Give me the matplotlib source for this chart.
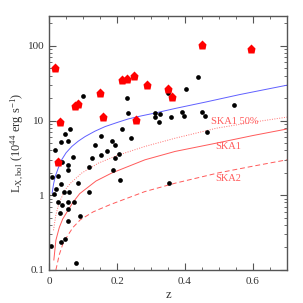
import matplotlib
matplotlib.use('Agg')
import matplotlib.pyplot as plt
import matplotlib.ticker as ticker

plt.rcParams['font.family'] = ['Liberation Serif', 'DejaVu Serif']
plt.rcParams['mathtext.fontset'] = 'custom'
plt.rcParams['mathtext.rm'] = 'Liberation Serif'
plt.rcParams['mathtext.it'] = 'Liberation Serif:italic'

# clusters (black dots): redshift, L_X,bol [1e44 erg/s]
z_black = [0.007, 0.034, 0.046, 0.079, 0.057, 0.091, 0.032, 0.055, 0.038, 0.027,
           0.055, 0.072, 0.014, 0.021, 0.044, 0.059, 0.118, 0.035, 0.084, 0.010,
           0.027, 0.055, 0.116, 0.188, 0.210, 0.039, 0.056, 0.071, 0.016, 0.034,
           0.055, 0.047, 0.061, 0.101, 0.125, 0.136, 0.153, 0.152, 0.170, 0.186,
           0.194, 0.193, 0.207, 0.215, 0.229, 0.233, 0.241, 0.313, 0.311, 0.323,
           0.326, 0.351, 0.359, 0.404, 0.390, 0.398, 0.439, 0.449, 0.460, 0.464,
           0.544, 0.352]
L_black = [0.21, 0.24, 0.26, 0.123, 0.45, 0.52, 0.57, 0.66, 0.73, 0.81,
           0.82, 0.80, 1.04, 1.22, 1.12, 1.12, 1.11, 1.42, 1.48, 1.73,
           1.81, 2.15, 2.38, 2.19, 1.59, 2.8, 2.55, 3.27, 4.05, 5.1,
           5.25, 6.7, 7.8, 21.5, 3.14, 4.7, 3.45, 6.2, 3.94, 5.3,
           4.74, 3.14, 3.56, 7.6, 20.0, 12.7, 5.9, 12.8, 11.3, 9.55,
           12.4, 23.4, 11.0, 26.4, 13.1, 11.6, 37.8, 13.0, 11.6, 7.0,
           16.0, 1.48]

# radio halo clusters (red pentagons)
z_red = [0.018, 0.026, 0.033, 0.076, 0.086, 0.151, 0.159, 0.214, 0.228, 0.251,
         0.257, 0.288, 0.349, 0.361, 0.450, 0.595]
L_red = [51, 2.78, 9.7, 15.5, 16.6, 23, 11.3, 34.9, 35.5, 39.8,
         10.3, 29.9, 26.1, 20.8, 101.6, 89.8]

# limit curves
z_blue = [0.009, 0.013, 0.018, 0.027, 0.037, 0.05, 0.067, 0.086, 0.106, 0.135,
          0.165, 0.2, 0.233, 0.27, 0.312, 0.371, 0.464, 0.56, 0.7]
L_blue = [1.07, 1.4, 1.78, 2.31, 2.98, 3.7, 4.5, 5.3, 6.1, 7.2,
          8.3, 9.4, 10.5, 11.5, 12.6, 14.5, 17.8, 22.2, 29.7]

z_ska1_50 = [0.013, 0.02, 0.03, 0.047, 0.063, 0.096, 0.145, 0.2, 0.282, 0.371,
             0.493, 0.6, 0.7]
L_ska1_50 = [0.34, 0.55, 0.8, 1.18, 1.45, 1.98, 2.69, 3.4, 4.5, 5.8,
             7.9, 9.5, 11.1]

z_ska1 = [0.014, 0.02, 0.03, 0.04, 0.053, 0.07, 0.09, 0.138, 0.184, 0.282,
          0.371, 0.493, 0.6, 0.7]
L_ska1 = [0.136, 0.25, 0.37, 0.48, 0.6, 0.8, 1.05, 1.55, 1.98, 2.98,
          3.86, 4.99, 6.3, 7.7]

z_ska2 = [0.02, 0.03, 0.04, 0.053, 0.07, 0.092, 0.13, 0.18, 0.282, 0.371,
          0.5, 0.6, 0.7]
L_ska2 = [0.1, 0.16, 0.22, 0.28, 0.37, 0.47, 0.6, 0.75, 1.12, 1.45,
          2.0, 2.45, 2.98]

fig = plt.figure(figsize=(3.03, 3.03), dpi=100)
ax = fig.add_axes([0.162, 0.109, 0.785, 0.838])

red = '#ff5a5a'
ax.plot(z_blue, L_blue, color='#6060ff', lw=0.7)
ax.plot(z_ska1_50, L_ska1_50, color='#ff7070', lw=0.7, ls=(0, (1, 1.5)))
ax.plot(z_ska1, L_ska1, color=red, lw=0.7)
ax.plot(z_ska2, L_ska2, color=red, lw=0.7, ls=(0, (5, 3)))

ax.plot(z_black, L_black, 'o', color='black', ms=3.4, mec='none')
ax.plot(z_red, L_red, 'p', color='red', ms=6.5, mec='none')

ax.text(0.476, 9.6, 'SKA1 50%', color=red, fontsize=7.5, va='center')
ax.text(0.49, 4.46, 'SKA1', color=red, fontsize=7.5, va='center')
ax.text(0.49, 1.69, 'SKA2', color=red, fontsize=7.5, va='center')

ax.set_yscale('log')
ax.set_xlim(0, 0.7)
ax.set_ylim(0.1, 250)
ax.xaxis.set_major_locator(ticker.MultipleLocator(0.2))
ax.xaxis.set_minor_locator(ticker.MultipleLocator(0.05))
ax.xaxis.set_major_formatter(ticker.FuncFormatter(lambda v, p: '0' if v == 0 else f'{v:g}'))
ax.yaxis.set_major_formatter(ticker.FuncFormatter(lambda v, p: f'{v:g}'))

gray = '#555555'
for s in ax.spines.values():
    s.set_color(gray)
    s.set_linewidth(1.0)
ax.tick_params(which='both', direction='in', top=True, right=True, colors=gray,
               labelcolor='#333333', labelsize=8)
ax.tick_params(which='major', length=5, width=0.8)
ax.tick_params(which='minor', length=2.5, width=0.6)
ax.tick_params(axis='x', pad=5)

ax.set_xlabel('z', fontsize=9, color='#333333', labelpad=2)
ax.set_ylabel(r'L$_{\rm X,bol}$ (10$^{44}$ erg s$^{-1}$)', fontsize=9, color='#333333', labelpad=2)

fig.savefig('out.png', dpi=100)
